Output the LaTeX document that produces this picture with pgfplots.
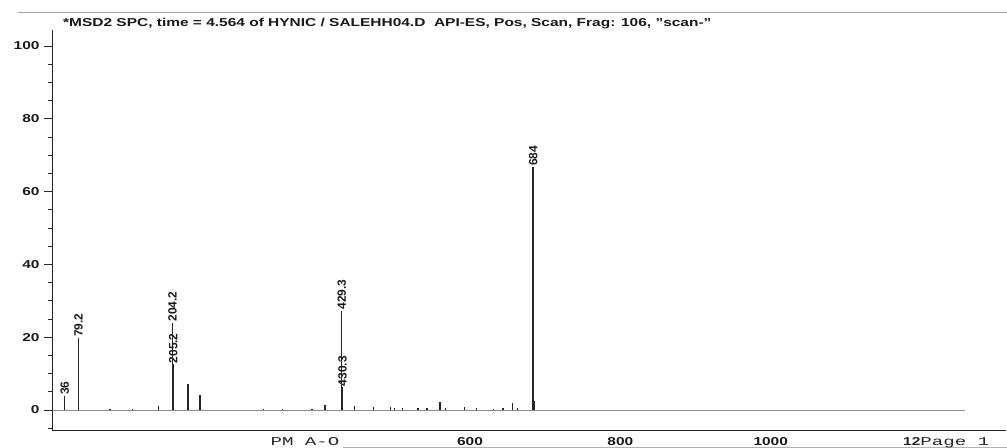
\documentclass[border=0pt]{standalone}
\usepackage{pgfplots}
\usepackage{pgfplotstable}
\pgfplotsset{compat=1.18}
\usepackage{fontspec}
\setmainfont{Liberation Sans}
\newfontfamily\monofont{Liberation Mono}
\newcommand\sx[1]{\scalebox{1.35}[1]{#1}}
\newcommand\mx[1]{\scalebox{1.6}[1]{#1}}

\pgfplotstableread{
m y
61 3.8
79.2 19.8
121 0.3
151 0.3
186 1.1
204.2 24.0
205.2 12.5
225 7.2
241 4.1
325 0.3
351 0.3
390 0.4
407 1.3
429.3 27.3
430.3 6.2
446 1.2
472 0.8
494 0.8
500 0.5
510 0.5
531 0.5
543 0.5
560 2.2
567 0.5
593 0.8
609 0.5
631 0.4
644 0.5
657 2.0
663 0.5
684 66.8
685 2.5
}\sticks

\pgfplotstableread{
m y label
61 3.8 36
79.2 19.8 79.2
204.2 24.0 204.2
205.2 12.5 205.2
429.3 27.3 429.3
430.3 6.2 430.3
684 66.8 684
}\labels

\pgfplotstableread{
m y
45 0
1258 0
}\baseline

\begin{document}
\begin{tikzpicture}[x=1bp,y=1bp]
\useasboundingbox (0,0) rectangle (1007,-448);
\begin{axis}[
  at={(52bp,-430bp)}, anchor=south west,
  scale only axis, width=954bp, height=400bp,
  xmin=44, xmax=1313, ymin=-5.5, ymax=104.4,
  axis x line=bottom, axis y line=left,
  axis line style={-, line width=0.9bp, black!85},
  tick align=outside,
  major tick length=8bp, minor tick length=4bp,
  every tick/.style={black!85, line width=0.8bp},
  xtick={600,800,1000},
  xticklabels={\sx{600},\sx{800},\sx{1000}},
  xtick style={draw=none},
  minor xtick={50,100,...,1300},
  ytick={0,20,...,100},
  yticklabels={\sx{0},\sx{20},\sx{40},\sx{60},\sx{80},\sx{100}},
  minor ytick={-5,5,10,15,25,30,35,45,50,55,65,70,75,85,90,95},
  ticklabel style={font=\bfseries\fontsize{11.5}{11.5}\selectfont, text=black!90},
  xticklabel style={yshift=4bp},
  yticklabel style={xshift=-1bp},
  clip=false,
]
\addplot[black!45, line width=0.9bp] table[x=m,y=y] {\baseline};
\addplot[ycomb, black!85, line width=1.3bp, mark=none] table[x=m,y=y] {\sticks};
\addplot[draw=none, mark=none, nodes near coords, point meta=explicit symbolic,
  every node near coord/.style={rotate=90, anchor=west, inner sep=1bp,
  font=\bfseries\fontsize{12}{12}\selectfont, text=black!90}]
  table[x=m,y=y,meta=label] {\labels};
\end{axis}
\draw[black!35, line width=0.8bp] (18,-12) -- (1007,-12);
\draw[black!30, line width=0.8bp] (343,-447) -- (1007,-447);
\node[anchor=base west, inner sep=0pt, text=black!90, font=\bfseries\fontsize{11.5}{12}\selectfont]
  at (63,-27) {\sx{*MSD2 SPC, time = 4.564 of HYNIC / SALEHH04.D\ \ API-ES, Pos, Scan, Frag: 106, \symbol{34}scan-\symbol{34}}};
\node[anchor=base, inner sep=0pt, text=black!85, font=\monofont\fontsize{12}{12}\selectfont]
  at (305,-445) {\mx{PM A-O}};
\node[anchor=base west, inner sep=0pt, text=black!85]
  at (903,-445) {\sx{\bfseries\fontsize{11.5}{11.5}\selectfont 12}{\monofont\fontsize{12}{12}\selectfont\mx{Page 1}}};
\end{tikzpicture}
\end{document}
